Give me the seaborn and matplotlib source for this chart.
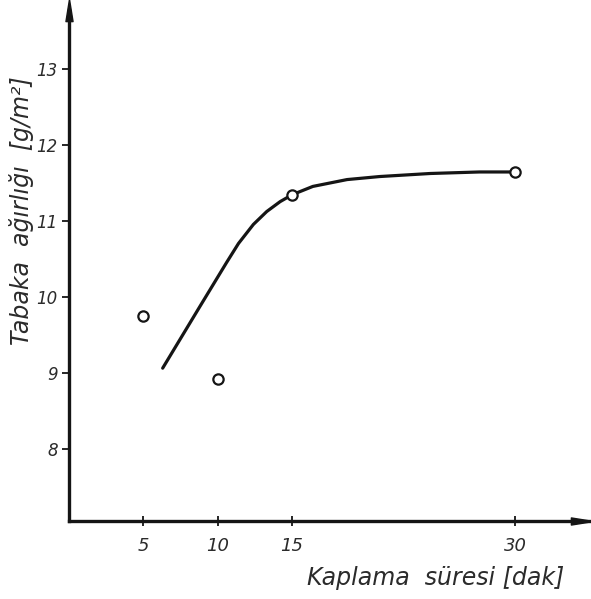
import numpy as np
import pandas as pd
import matplotlib
matplotlib.use("Agg")
import matplotlib.pyplot as plt
from matplotlib.path import Path
import seaborn as sns

# Measured coating weights
sure = [5, 10, 15, 30]
agirlik = [9.75, 8.92, 11.34, 11.64]

# Hand-drawn trend curve (traced points)
egri_x = [6.3, 8.8, 10.6, 11.4, 12.4, 13.3, 14.2, 15.0, 16.4, 18.7, 20.9, 24.3, 27.6, 30.0]
egri_y = [9.06, 9.87, 10.45, 10.70, 10.95, 11.12, 11.25, 11.34, 11.45, 11.54, 11.58,
          11.62, 11.64, 11.64]

x_ticks = [5, 10, 15, 30]
y_ticks = [8, 9, 10, 11, 12, 13]

sns.set_theme(style="white")
plt.rcParams["font.family"] = ["DejaVu Sans"]

ink = "#151515"
txt = "#2b2b2b"

fig = plt.figure(figsize=(5.91, 5.99), dpi=100)
ax = fig.add_axes([69 / 591, 78 / 599, 521 / 591, 511 / 599])

curve = pd.DataFrame({"x": egri_x, "y": egri_y})
pts = pd.DataFrame({"x": sure, "y": agirlik})

sns.lineplot(data=curve, x="x", y="y", ax=ax, color=ink, linewidth=2.3,
             sort=False, estimator=None)
for ln in ax.get_lines():
    ln.set_solid_joinstyle("round")
    ln.set_solid_capstyle("round")
sns.scatterplot(data=pts, x="x", y="y", ax=ax, s=55, facecolor="white",
                edgecolor=ink, linewidth=1.6, zorder=5)

ax.set_xlim(0, 35.04)
ax.set_ylim(7.05, 13.77)

ax.set_xticks(x_ticks)
ax.set_yticks(y_ticks)
ax.set_xticklabels([str(v) for v in x_ticks], fontsize=13, style="italic", color=txt)
ax.set_yticklabels([str(v) for v in y_ticks], fontsize=12, style="italic", color=txt)
ax.tick_params(axis="x", direction="inout", length=7, width=1.3, color=ink, pad=8,
               bottom=True)
ax.tick_params(axis="y", direction="out", length=5, width=1.3, color=ink, pad=3,
               left=True)

for s in ["top", "right"]:
    ax.spines[s].set_visible(False)
for s in ["left", "bottom"]:
    ax.spines[s].set_color(ink)
    ax.spines[s].set_linewidth(2.4)

# Arrow heads on the axes
up = Path([(-0.32, -1), (0, 1), (0.32, -1), (-0.32, -1)],
          [Path.MOVETO, Path.LINETO, Path.LINETO, Path.CLOSEPOLY])
right = Path([(-1, -0.32), (1, 0), (-1, 0.32), (-1, -0.32)],
             [Path.MOVETO, Path.LINETO, Path.LINETO, Path.CLOSEPOLY])
ax.plot([0], [1.0], marker=up, markersize=16, color=ink, transform=ax.transAxes,
        clip_on=False)
ax.plot([0.985], [0], marker=right, markersize=16, color=ink, transform=ax.transAxes,
        clip_on=False)

ax.set_xlabel("")
ax.set_ylabel("")

lab_style = dict(fontsize=17, style="italic", color=txt, ha="center", va="center")
fig.text(436 / 591, 1 - 578 / 599, "Kaplama  süresi [dak]", **lab_style)
fig.text(22 / 591, 1 - 211 / 599, "Tabaka  ağırlığı  [g/m²]", rotation=90, **lab_style)

fig.savefig("out.png", dpi=100)
